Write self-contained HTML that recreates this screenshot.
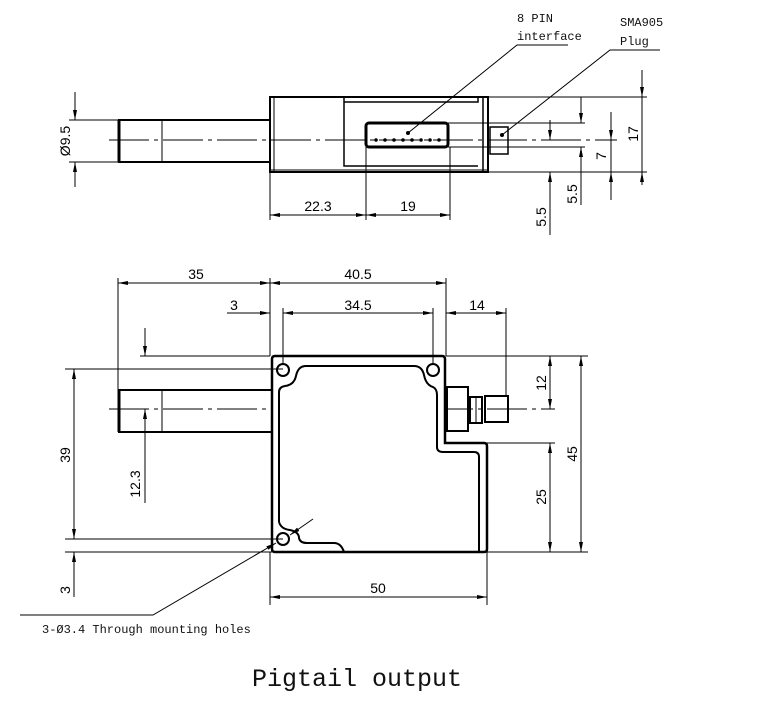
<!DOCTYPE html>
<html><head><meta charset="utf-8"><style>
html,body{margin:0;padding:0;background:#fff;}
svg{display:block;}
.t{font-family:"Liberation Sans",sans-serif;font-size:14px;fill:#000;}
.m{font-family:"Liberation Mono",monospace;font-size:12px;fill:#111;}
</style></head><body>
<svg width="768" height="723" viewBox="0 0 768 723" xmlns="http://www.w3.org/2000/svg">
<defs>
<marker id="a" viewBox="0 0 10 4" refX="10" refY="2" markerWidth="10" markerHeight="4" markerUnits="userSpaceOnUse" orient="auto-start-reverse">
<path d="M0,0 L10,2 L0,4 z" fill="#000"/></marker>
</defs>
<g stroke="#000" fill="none" stroke-width="1">
<line x1="109" y1="140" x2="617" y2="140" stroke-dasharray="40,5,4,5"/>
<rect x="119" y="120" width="151" height="42" stroke-width="2"/>
<line x1="119" y1="120" x2="119" y2="162" stroke-width="3"/>
<line x1="162" y1="120" x2="162" y2="162"/>
<rect x="270" y="97" width="218" height="75" stroke-width="2"/>
<line x1="274" y1="97" x2="274" y2="172"/>
<line x1="483" y1="97" x2="483" y2="172" stroke-width="1.5"/>
<line x1="270" y1="170" x2="488" y2="170"/>
<path d="M344,97 V166 H478 M344,102 H478 V97" stroke-width="1.5"/>
<rect x="366" y="123" width="82" height="24" rx="3" stroke-width="3"/>
<rect x="490" y="127" width="18" height="27" stroke-width="1.5"/>
<line x1="75" y1="92" x2="75" y2="120" marker-end="url(#a)"/>
<line x1="75" y1="187" x2="75" y2="162" marker-end="url(#a)"/>
<line x1="69" y1="120" x2="119" y2="120"/>
<line x1="69" y1="162" x2="119" y2="162"/>
<line x1="270" y1="172" x2="270" y2="220"/>
<line x1="366" y1="147" x2="366" y2="220"/>
<line x1="450" y1="147" x2="450" y2="220"/>
<line x1="270" y1="215" x2="366" y2="215" marker-start="url(#a)" marker-end="url(#a)"/>
<line x1="366" y1="215" x2="450" y2="215" marker-start="url(#a)" marker-end="url(#a)"/>
<line x1="488" y1="97" x2="647" y2="97"/>
<line x1="488" y1="172" x2="647" y2="172"/>
<line x1="448" y1="123" x2="585" y2="123"/>
<line x1="448" y1="147" x2="585" y2="147"/>
<line x1="642" y1="70" x2="642" y2="97" marker-end="url(#a)"/>
<line x1="642" y1="97" x2="642" y2="172"/>
<line x1="642" y1="185" x2="642" y2="172" marker-end="url(#a)"/>
<line x1="611" y1="112" x2="611" y2="140" marker-end="url(#a)"/>
<line x1="611" y1="140" x2="611" y2="172"/>
<line x1="611" y1="200" x2="611" y2="172" marker-end="url(#a)"/>
<line x1="581" y1="97" x2="581" y2="123" marker-end="url(#a)"/>
<line x1="581" y1="205" x2="581" y2="147" marker-end="url(#a)"/>
<line x1="550" y1="120" x2="550" y2="140" marker-end="url(#a)"/>
<line x1="550" y1="235" x2="550" y2="172" marker-end="url(#a)"/>
<polyline points="408,133 517,45 568,45"/>
<polyline points="502,135 610,50 660,50"/>

<line x1="109" y1="409" x2="555" y2="409" stroke-dasharray="40,5,4,5"/>
<rect x="119" y="390" width="153" height="42" stroke-width="2"/>
<line x1="119" y1="390" x2="119" y2="432" stroke-width="3"/>
<line x1="162" y1="390" x2="162" y2="432"/>
<path d="M275,356 H442 Q445,356 445,359 V443 H484 Q487,443 487,446 V549 Q487,552 484,552 H275 Q272,552 272,549 V359 Q272,356 275,356 Z" stroke-width="2.5" fill="#fff"/>
<path d="M279,522 V392 Q279,387 285,386 Q294,385 296,376 Q298,366 306,366 H414 Q422,366 424,375 Q426,385 433,387 Q437,389 437,395 V447 Q437,452 443,452 H474 Q479,452 479,457 V552" stroke-width="2"/>
<path d="M279,522 Q281,529 290,530 Q299,532 299,538 Q300,543 307,543 H334 Q341,543 344,552" stroke-width="2"/>
<circle cx="283" cy="370" r="6" stroke-width="2"/>
<circle cx="433" cy="370" r="6" stroke-width="2"/>
<circle cx="283" cy="539" r="6" stroke-width="2"/>
<rect x="447" y="387" width="21" height="44" stroke-width="2"/>
<rect x="470" y="397" width="12" height="26" stroke-width="2"/>
<line x1="476" y1="397" x2="476" y2="423"/>
<rect x="485" y="396" width="23" height="26" stroke-width="2"/>
<line x1="118" y1="278" x2="118" y2="390"/>
<line x1="270" y1="278" x2="270" y2="356"/>
<line x1="446" y1="278" x2="446" y2="356"/>
<line x1="118" y1="283" x2="270" y2="283" marker-start="url(#a)" marker-end="url(#a)"/>
<line x1="270" y1="283" x2="446" y2="283" marker-start="url(#a)" marker-end="url(#a)"/>
<line x1="283" y1="308" x2="283" y2="364"/>
<line x1="433" y1="308" x2="433" y2="364"/>
<line x1="227" y1="313" x2="270" y2="313" marker-end="url(#a)"/>
<line x1="283" y1="313" x2="433" y2="313" marker-start="url(#a)" marker-end="url(#a)"/>
<line x1="506" y1="308" x2="506" y2="396"/>
<line x1="446" y1="313" x2="506" y2="313" marker-start="url(#a)" marker-end="url(#a)"/>
<line x1="446" y1="356" x2="588" y2="356"/>
<line x1="487" y1="443" x2="555" y2="443"/>
<line x1="487" y1="552" x2="588" y2="552"/>
<line x1="550" y1="356" x2="550" y2="409" marker-start="url(#a)" marker-end="url(#a)"/>
<line x1="550" y1="443" x2="550" y2="552" marker-start="url(#a)" marker-end="url(#a)"/>
<line x1="581" y1="356" x2="581" y2="552" marker-start="url(#a)" marker-end="url(#a)"/>
<line x1="65" y1="369" x2="283" y2="369"/>
<line x1="65" y1="539" x2="283" y2="539"/>
<line x1="65" y1="552" x2="272" y2="552"/>
<line x1="140" y1="356" x2="270" y2="356"/>
<line x1="74" y1="369" x2="74" y2="539" marker-start="url(#a)" marker-end="url(#a)"/>
<line x1="74" y1="597" x2="74" y2="552" marker-end="url(#a)"/>
<line x1="145" y1="328" x2="145" y2="356" marker-end="url(#a)"/>
<line x1="145" y1="503" x2="145" y2="409" marker-end="url(#a)"/>
<line x1="270" y1="552" x2="270" y2="605"/>
<line x1="487" y1="552" x2="487" y2="605"/>
<line x1="270" y1="597" x2="487" y2="597" marker-start="url(#a)" marker-end="url(#a)"/>
<line x1="313" y1="519" x2="290" y2="535" marker-end="url(#a)"/>
<polyline points="276,543 153,615 20,615" marker-start="url(#a)"/>
</g>
<g fill="#000" stroke="none">
<circle cx="376" cy="140" r="1.8"/><circle cx="385" cy="140" r="1.8"/><circle cx="394" cy="140" r="1.8"/><circle cx="403" cy="140" r="1.8"/><circle cx="412" cy="140" r="1.8"/><circle cx="421" cy="140" r="1.8"/><circle cx="430" cy="140" r="1.8"/><circle cx="439" cy="140" r="1.8"/>
<circle cx="408" cy="133" r="2"/><circle cx="502" cy="135" r="2"/>
</g>
<text class="m" x="517" y="22">8 PIN</text>
<text class="m" x="517" y="40">interface</text>
<text class="m" x="620" y="26">SMA905</text>
<text class="m" x="620" y="45">Plug</text>
<text class="t" x="70" y="141" text-anchor="middle" transform="rotate(-90 70 141)">Ø9.5</text>
<text class="t" x="318" y="211" text-anchor="middle">22.3</text>
<text class="t" x="408" y="211" text-anchor="middle">19</text>
<text class="t" x="638" y="134" text-anchor="middle" transform="rotate(-90 638 134)">17</text>
<text class="t" x="606" y="156" text-anchor="middle" transform="rotate(-90 606 156)">7</text>
<text class="t" x="577" y="194" text-anchor="middle" transform="rotate(-90 577 194)">5.5</text>
<text class="t" x="546" y="217" text-anchor="middle" transform="rotate(-90 546 217)">5.5</text>
<text class="t" x="196" y="279" text-anchor="middle">35</text>
<text class="t" x="358" y="279" text-anchor="middle">40.5</text>
<text class="t" x="234" y="310" text-anchor="middle">3</text>
<text class="t" x="358" y="310" text-anchor="middle">34.5</text>
<text class="t" x="477" y="310" text-anchor="middle">14</text>
<text class="t" x="546" y="383" text-anchor="middle" transform="rotate(-90 546 383)">12</text>
<text class="t" x="577" y="454" text-anchor="middle" transform="rotate(-90 577 454)">45</text>
<text class="t" x="546" y="497" text-anchor="middle" transform="rotate(-90 546 497)">25</text>
<text class="t" x="70" y="455" text-anchor="middle" transform="rotate(-90 70 455)">39</text>
<text class="t" x="70" y="590" text-anchor="middle" transform="rotate(-90 70 590)">3</text>
<text class="t" x="140" y="484" text-anchor="middle" transform="rotate(-90 140 484)">12.3</text>
<text class="t" x="378" y="593" text-anchor="middle">50</text>
<text class="m" x="42" y="633">3-Ø3.4 Through mounting holes</text>
<text x="357" y="686" text-anchor="middle" style="font-family:'Liberation Mono',monospace;font-size:25px;fill:#111;">Pigtail output</text>
</svg>
</body></html>
